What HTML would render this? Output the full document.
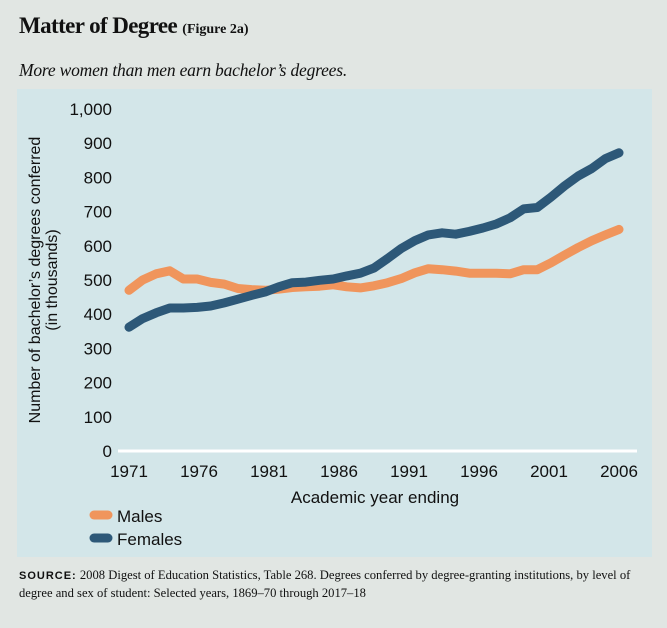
<!DOCTYPE html>
<html><head><style>
body{margin:0;width:667px;height:628px;background:#e1e6e3;position:relative;overflow:hidden}
.t{position:absolute;left:19px;top:13px;font-family:"Liberation Serif",serif;font-weight:bold;font-size:23px;color:#111;letter-spacing:-0.6px}
.t span{font-size:14px;letter-spacing:0}
.s{position:absolute;left:19px;top:60px;font-family:"Liberation Serif",serif;font-style:italic;font-size:17.5px;color:#111;letter-spacing:-0.2px}
.p{position:absolute;left:17px;top:89px;width:635px;height:468px;background:#d3e6e9}
.src{position:absolute;left:19px;top:567px;width:620px;font-family:"Liberation Serif",serif;font-size:12.6px;line-height:17px;color:#111}
.src b{font-family:"Liberation Sans",sans-serif;font-size:11px;letter-spacing:1px}
</style></head><body>
<div class="t">Matter of Degree <span>(Figure 2a)</span></div>
<div class="s">More women than men earn bachelor’s degrees.</div>
<div class="p"></div>
<svg width="667" height="628" style="position:absolute;left:0;top:0" font-family="Liberation Sans,sans-serif" fill="#111">
<line x1="118" y1="451" x2="637" y2="451" stroke="#fff" stroke-width="3"/>
<g font-size="17" text-anchor="end" id="yt"></g>
<g font-size="17" text-anchor="middle" id="xt"></g>
<text x="375" y="503" font-size="17" text-anchor="middle">Academic year ending</text>
<g transform="translate(40,280) rotate(-90)" font-size="16" text-anchor="middle">
<text x="0" y="0">Number of bachelor’s degrees conferred</text>
<text x="0" y="17">(in thousands)</text></g>
<line x1="94" y1="515" x2="108" y2="515" stroke="#f0955c" stroke-width="9" stroke-linecap="round"/>
<line x1="94" y1="538" x2="108" y2="538" stroke="#2d5878" stroke-width="9" stroke-linecap="round"/>
<text x="117" y="522" font-size="17">Males</text>
<text x="117" y="545" font-size="17">Females</text>
<path id="m" fill="none" stroke="#f0955c" stroke-width="9" stroke-linejoin="round" stroke-linecap="round"/>
<path id="f" fill="none" stroke="#2d5878" stroke-width="9" stroke-linejoin="round" stroke-linecap="round"/>
</svg>
<div class="src"><b>SOURCE:</b> 2008 Digest of Education Statistics, Table 268. Degrees conferred by degree-granting institutions, by level of degree and sex of student: Selected years, 1869–70 through 2017–18</div>
<script>
var ns="http://www.w3.org/2000/svg";
function Y(v){return 451-v*0.342}
function X(y){return 129+(y-1971)*14}
var yt=document.getElementById('yt');
for(var v=0;v<=1000;v+=100){var t=document.createElementNS(ns,'text');t.setAttribute('x',112);t.setAttribute('y',Y(v)+6);t.textContent=v==1000?'1,000':v;yt.appendChild(t);}
var xt=document.getElementById('xt');
for(var y=1971;y<=2006;y+=5){var t=document.createElementNS(ns,'text');t.setAttribute('x',X(y));t.setAttribute('y',477);t.textContent=y;xt.appendChild(t);}
var M=[470,500,518,527,503,503,493,488,475,472,470,473,478,480,482,486,480,477,483,492,504,521,533,530,526,520,520,520,518,530,530,550,573,595,615,632,648];
var F=[362,387,404,418,418,420,424,433,444,455,465,480,492,494,499,503,512,520,535,563,592,615,632,638,634,642,652,664,682,708,712,742,775,804,826,855,872];
function P(a){var n=a.length,d='';for(var i=0;i<n;i++){var x=129+i*(490/(n-1));d+=(i?'L':'M')+x.toFixed(1)+','+Y(a[i]).toFixed(1);}return d}
document.getElementById('m').setAttribute('d',P(M));
document.getElementById('f').setAttribute('d',P(F));
</script>
</body></html>
